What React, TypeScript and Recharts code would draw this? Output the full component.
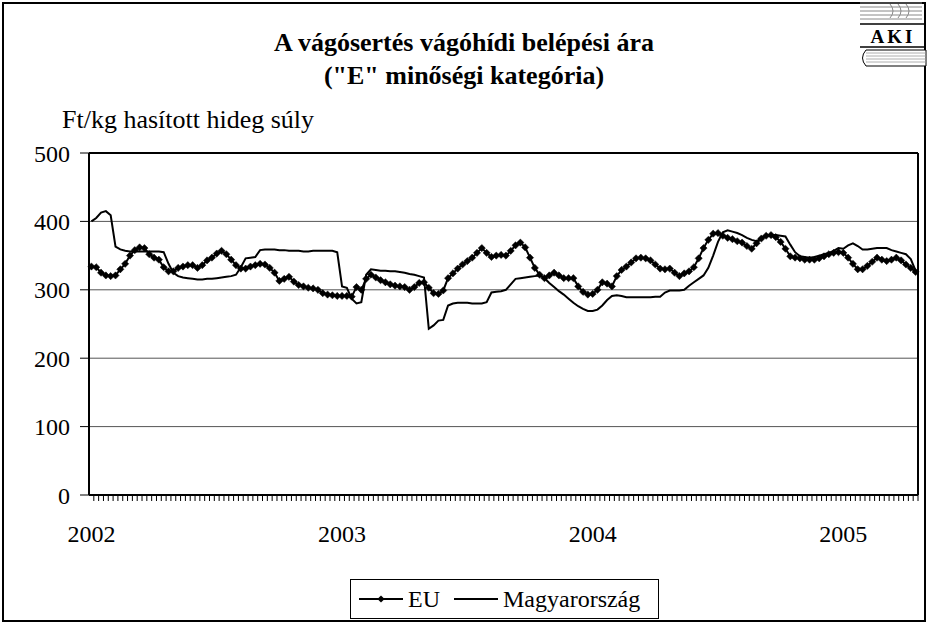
import React from 'react';
import { LineChart, Line, XAxis, YAxis, CartesianGrid, ReferenceLine } from 'recharts';

const FONT = '"Liberation Serif", "Times New Roman", serif';

const years = ['2002', '2003', '2004', '2005'];
const weeksPerYear = [52, 52, 52, 16];
const yTicks = [0, 100, 200, 300, 400, 500];

const euValues = [
  334, 333, 325, 321, 320, 321, 330, 338, 350, 358,
  362, 361, 352, 347, 344, 333, 327, 327, 332, 334,
  336, 336, 332, 336, 343, 347, 353, 357, 352, 344,
  336, 331, 331, 334, 336, 338, 337, 332, 325, 313,
  316, 319, 312, 307, 305, 303, 302, 300, 295, 293,
  292, 291, 291, 291, 290, 304, 300, 316, 322, 318,
  314, 311, 308, 306, 305, 304, 300, 304, 310, 311,
  303, 295, 294, 299, 317, 324, 331, 337, 342, 347,
  354, 361, 354, 348, 350, 351, 350, 357, 365, 369,
  362, 347, 332, 322, 317, 321, 325, 321, 317, 317,
  317, 305, 297, 293, 294, 300, 311, 309, 305, 320,
  329, 334, 340, 346, 347, 346, 343, 337, 331, 330,
  331, 325, 320, 324, 327, 333, 346, 361, 373, 382,
  383, 379, 376, 374, 371, 369, 364, 360, 368, 375,
  379, 380, 377, 370, 360, 349, 347, 346, 344, 344,
  344, 346, 349, 352, 354, 355, 354, 347, 338, 330,
  330, 335, 341, 347, 344, 342, 344, 347, 343, 337,
  332, 326,
];

const huValues = [
  400, 405, 413, 415, 409, 363, 359, 357, 356, 356,
  356, 356, 356, 356, 356, 355, 338, 325, 320, 318,
  317, 316, 315, 315, 316, 316, 317, 318, 319, 320,
  322, 333, 346, 347, 348, 358, 359, 359, 359, 358,
  358, 357, 357, 357, 356, 356, 357, 357, 357, 357,
  357, 355, 305, 303, 287, 280, 282, 322, 330, 329,
  328, 328, 327, 327, 326, 325, 323, 322, 320, 318,
  243, 248, 255, 256, 277, 280, 281, 281, 281, 280,
  280, 280, 282, 296, 297, 298, 300, 308, 316, 317,
  318, 319, 320, 321, 317, 310, 304, 298, 293, 287,
  281, 276, 272, 269, 269, 271, 277, 285, 291, 292,
  291, 289, 289, 289, 289, 289, 289, 290, 290, 296,
  299, 299, 299, 300, 306, 311, 316, 321, 332, 350,
  370, 384, 387, 385, 383, 380, 376, 373, 371, 376,
  379, 380, 380, 379, 378, 366, 355, 349, 348, 347,
  348, 350, 352, 354, 357, 361, 360, 365, 368, 364,
  359, 359, 360, 361, 361, 361, 358, 356, 354, 352,
  345, 328,
];

const seriesNames = { eu: 'EU', hu: 'Magyarország' };
const titleLines = ['A vágósertés vágóhídi belépési ára', '("E" minőségi kategória)'];
const yUnit = 'Ft/kg hasított hideg súly';

const categories: string[] = [];
years.forEach((y, i) => {
  for (let w = 1; w <= weeksPerYear[i]; w++) categories.push(w === 1 ? y : `${y}/${w}`);
});
const data = categories.map((c, i) => ({ week: c, eu: euValues[i], hu: huValues[i] }));

const CHART_W = 928;
const CHART_H = 624;
const MARGIN = { top: 153, right: 9, bottom: 84, left: 29 };
const Y_W = 60;
const X_H = 45;
const PLOT_W = CHART_W - MARGIN.left - Y_W - MARGIN.right - 1;
const BAND = PLOT_W / categories.length;

const XTick = (props: any) => {
  const { x, y, payload } = props;
  const label = String(payload.value);
  const isYear = label.indexOf('/') < 0;
  return (
    <g>
      <line x1={x + BAND / 2} y1={y} x2={x + BAND / 2} y2={y + 6} stroke="#000" strokeWidth={1} />
      {isYear && (
        <text x={x} y={y + 47} textAnchor="middle" fontSize={24} fontFamily={FONT} fill="#000">
          {label}
        </text>
      )}
    </g>
  );
};

const Diamond = (props: any) => {
  const { cx, cy, index } = props;
  if (cx == null || cy == null) return <g key={`d${index}`} />;
  const r = 3.6;
  return (
    <path
      key={`d${index}`}
      d={`M${cx} ${cy - r}L${cx + r} ${cy}L${cx} ${cy + r}L${cx - r} ${cy}Z`}
      fill="#000"
      stroke="#000"
      strokeWidth={0.5}
    />
  );
};

const Logo = () => (
  <svg width={72} height={68} style={{ position: 'absolute', left: 856, top: 0 }}>
    {[3, 7, 11, 15, 19].map((yy) => (
      <line key={yy} x1={4} y1={yy} x2={66} y2={yy} stroke="#888" strokeWidth={1} />
    ))}
    <path d="M34 4 Q40 11 34 18 M42 4 Q48 11 42 18 M50 4 Q56 11 50 18" fill="none" stroke="#888" strokeWidth={1} />
    <line x1={4} y1={24} x2={70} y2={24} stroke="#000" strokeWidth={1.5} />
    <text x={37} y={43} textAnchor="middle" fontFamily={FONT} fontWeight="bold" fontSize={19} letterSpacing={3} fill="#000">
      AKI
    </text>
    <line x1={4} y1={47} x2={70} y2={47} stroke="#000" strokeWidth={1.5} />
    <path d="M10 50 L70 50 L70 66 L10 66 Q3 58 10 50 Z" fill="#fff" stroke="#000" strokeWidth={1} />
    {[53, 56, 59, 62].map((yy) => (
      <line key={yy} x1={10} y1={yy} x2={70} y2={yy} stroke="#999" strokeWidth={0.8} />
    ))}
  </svg>
);

const LegendBox = () => (
  <div
    style={{
      position: 'absolute',
      left: 350,
      top: 579,
      height: 40,
      boxSizing: 'border-box',
      border: '1.5px solid #000',
      display: 'flex',
      alignItems: 'center',
      padding: '0 18px 0 8px',
      fontFamily: FONT,
      fontSize: 24,
      color: '#000',
      background: '#fff',
      whiteSpace: 'nowrap',
    }}
  >
    <svg width={44} height={12}>
      <line x1={0} y1={6} x2={44} y2={6} stroke="#000" strokeWidth={2} />
      <path d="M22 2.4L25.6 6L22 9.6L18.4 6Z" fill="#000" />
    </svg>
    <span style={{ marginLeft: 5, marginRight: 14 }}>{seriesNames.eu}</span>
    <svg width={44} height={12}>
      <line x1={0} y1={6} x2={44} y2={6} stroke="#000" strokeWidth={2} />
    </svg>
    <span style={{ marginLeft: 5 }}>{seriesNames.hu}</span>
  </div>
);

export default function App() {
  return (
    <div style={{ position: 'absolute', left: 0, top: 0, width: CHART_W, height: CHART_H, background: '#fff' }}>
      <div
        style={{
          position: 'absolute',
          left: 2,
          top: 2,
          width: 924,
          height: 620,
          boxSizing: 'border-box',
          border: '2px solid #000',
        }}
      />
      <div
        style={{
          position: 'absolute',
          left: 0,
          top: 26,
          width: CHART_W,
          textAlign: 'center',
          fontFamily: FONT,
          fontWeight: 'bold',
          fontSize: 26,
          lineHeight: '33px',
          color: '#000',
        }}
      >
        <div>{titleLines[0]}</div>
        <div>{titleLines[1]}</div>
      </div>
      <div
        style={{
          position: 'absolute',
          left: 62,
          top: 105,
          fontFamily: FONT,
          fontSize: 26,
          lineHeight: '30px',
          color: '#000',
        }}
      >
        {yUnit}
      </div>
      <Logo />
      <div style={{ position: 'absolute', left: 0, top: 0 }}>
        <LineChart width={CHART_W} height={CHART_H} data={data} margin={MARGIN}>
          <CartesianGrid vertical={false} stroke="#555" strokeWidth={1} />
          <XAxis
            dataKey="week"
            interval={0}
            tick={<XTick />}
            tickLine={false}
            tickSize={0}
            tickMargin={0}
            height={X_H}
            padding={{ left: BAND / 2, right: BAND / 2 }}
            axisLine={{ stroke: '#000', strokeWidth: 2 }}
          />
          <YAxis
            domain={[0, 500]}
            ticks={yTicks}
            width={Y_W}
            tickSize={9}
            tickMargin={10}
            tickLine={{ stroke: '#000' }}
            axisLine={{ stroke: '#000', strokeWidth: 2 }}
            tick={{ fill: '#000', fontSize: 24, fontFamily: FONT }}
          />
          <YAxis
            yAxisId="right"
            orientation="right"
            domain={[0, 500]}
            width={1}
            tick={false}
            tickLine={false}
            axisLine={{ stroke: '#000', strokeWidth: 2 }}
          />
          <ReferenceLine y={500} stroke="#000" strokeWidth={2} />
          <Line
            type="linear"
            dataKey="hu"
            name={seriesNames.hu}
            stroke="#000"
            strokeWidth={2}
            dot={false}
            isAnimationActive={false}
          />
          <Line
            type="linear"
            dataKey="eu"
            name={seriesNames.eu}
            stroke="#000"
            strokeWidth={2}
            dot={Diamond}
            isAnimationActive={false}
          />
        </LineChart>
      </div>
      <LegendBox />
    </div>
  );
}
